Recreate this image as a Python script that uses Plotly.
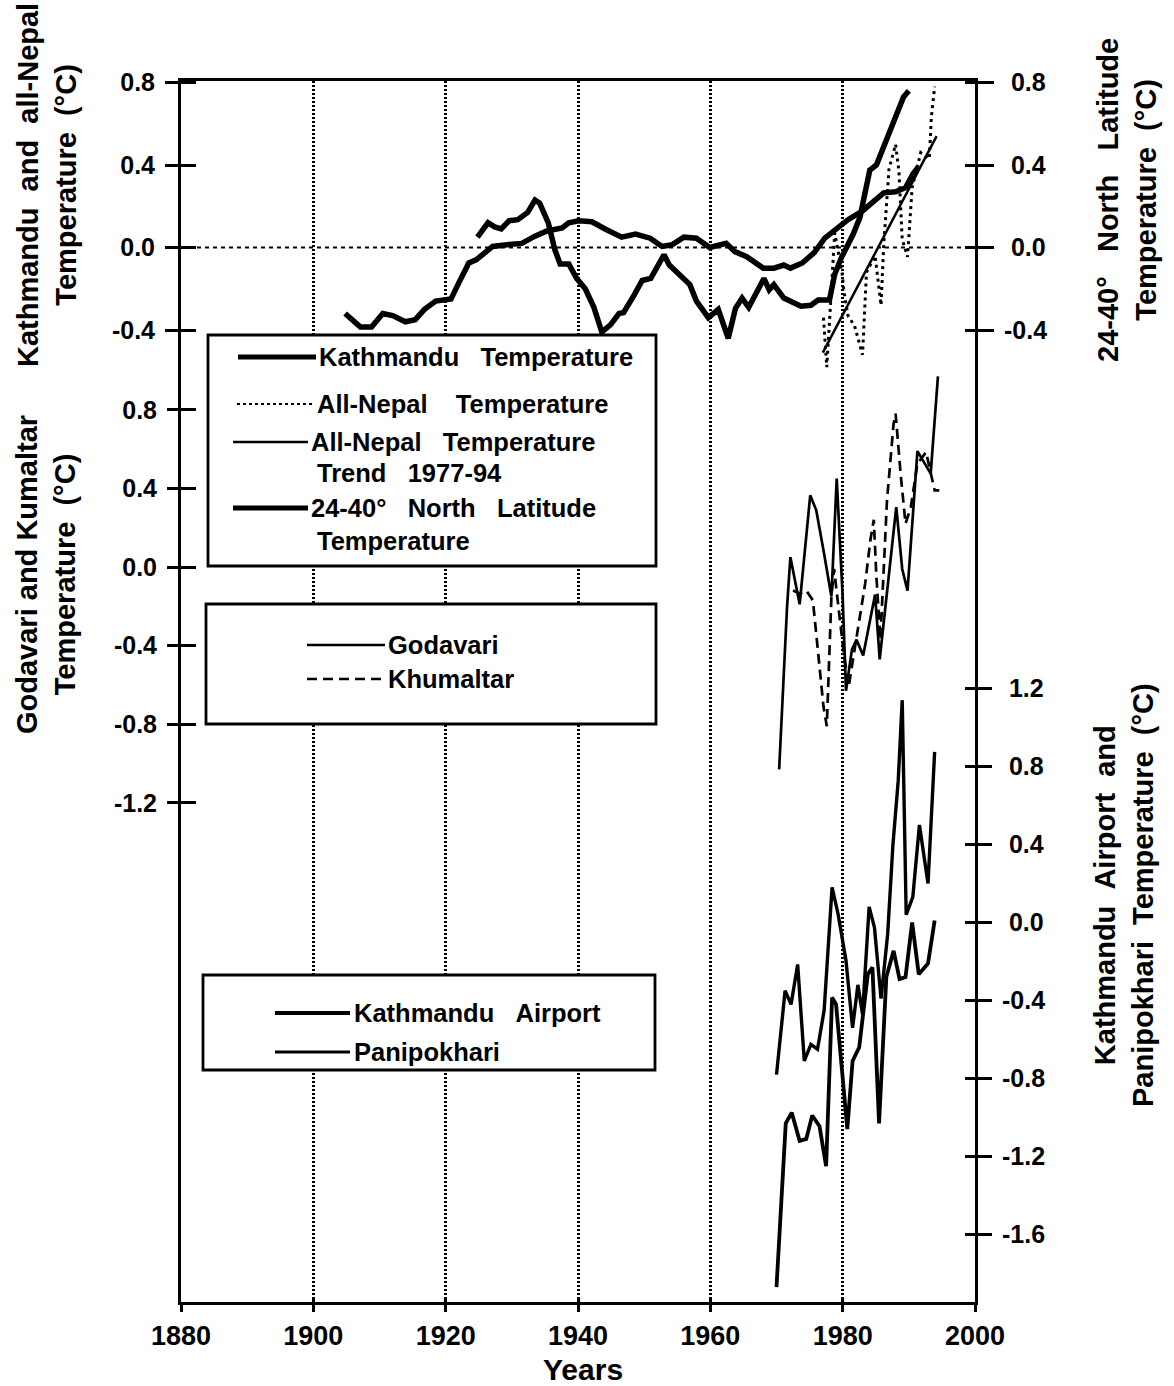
import plotly.graph_objects as go

# ---------------- data ----------------
kath_year = [1924.8, 1926.4, 1927.4, 1928.4, 1929.6, 1930.9, 1932.4, 1933.5, 1934.2, 1935.5,
             1936.5, 1937.3, 1938.6, 1939.8, 1941.1, 1942.4, 1943.6, 1944.9, 1946.2, 1946.9,
             1948.5, 1949.7, 1951.0, 1952.3, 1953.0, 1953.8, 1955.3, 1956.9, 1957.9, 1959.7,
             1961.2, 1962.7, 1963.8, 1964.8, 1965.8, 1968.1, 1968.9, 1969.6, 1971.1, 1973.7,
             1975.2, 1976.3, 1978.0, 1978.8, 1979.8, 1981.6, 1982.6, 1983.4, 1984.1, 1985.1,
             1986.4, 1988.0, 1989.2, 1990.0]
kath_temp = [0.05, 0.12, 0.10, 0.09, 0.13, 0.135, 0.17, 0.23, 0.215, 0.12,
             -0.01, -0.08, -0.08, -0.15, -0.20, -0.29, -0.41, -0.375, -0.32, -0.315,
             -0.23, -0.16, -0.15, -0.07, -0.035, -0.085, -0.13, -0.18, -0.26, -0.34,
             -0.30, -0.44, -0.295, -0.245, -0.29, -0.15, -0.205, -0.18, -0.245, -0.285,
             -0.28, -0.255, -0.255, -0.13, -0.05, 0.065, 0.145, 0.26, 0.375, 0.40,
             0.505, 0.625, 0.73, 0.76]

lat_year = [1904.8, 1906.1, 1907.1, 1908.8, 1910.5, 1912.0, 1913.9, 1915.4, 1916.8, 1918.5,
            1920.8, 1922.0, 1923.5, 1924.6, 1925.8, 1927.1, 1929.6, 1931.5, 1933.5, 1935.3,
            1937.6, 1938.6, 1940.1, 1942.1, 1944.1, 1946.6, 1948.7, 1950.9, 1952.7, 1954.2,
            1956.0, 1957.9, 1959.9, 1962.4, 1963.7, 1965.5, 1968.0, 1969.6, 1971.1, 1972.1,
            1973.9, 1975.7, 1977.3, 1979.3, 1980.8, 1982.9, 1984.9, 1986.2, 1988.0, 1989.5,
            1990.6, 1991.4]
lat_temp = [-0.32, -0.36, -0.385, -0.385, -0.32, -0.33, -0.36, -0.35, -0.30, -0.26,
            -0.25, -0.17, -0.075, -0.06, -0.03, 0.005, 0.015, 0.02, 0.055, 0.08,
            0.095, 0.12, 0.13, 0.125, 0.09, 0.05, 0.065, 0.045, 0.005, 0.013,
            0.05, 0.045, 0.0, 0.02, -0.02, -0.045, -0.10, -0.10, -0.085, -0.10,
            -0.075, -0.025, 0.045, 0.10, 0.135, 0.175, 0.225, 0.265, 0.27, 0.29,
            0.355, 0.39]

nepal_year = [1977.1, 1977.6, 1978.8, 1979.9, 1980.2, 1980.8, 1981.8, 1983.0, 1983.6, 1984.9,
              1985.8, 1986.2, 1987.0, 1988.0, 1988.5, 1989.0, 1989.8, 1990.5, 1991.8, 1993.1,
              1993.4, 1993.9]
nepal_temp = [-0.34, -0.58, 0.07, -0.12, -0.215, -0.33, -0.38, -0.52, -0.12, -0.04,
              -0.28, 0.01, 0.38, 0.50, 0.37, 0.04, -0.045, 0.29, 0.46, 0.43,
              0.63, 0.78]

trend_year = [1977.0, 1994.2]
trend_temp = [-0.51, 0.54]

god_year = [1970.4, 1971.6, 1972.1, 1973.5, 1975.1, 1976.0, 1977.1, 1978.3, 1979.1, 1980.0,
            1980.5, 1981.4, 1982.1, 1983.1, 1984.9, 1985.6, 1988.1, 1989.0, 1989.8, 1991.3,
            1993.3, 1994.4]
god_temp = [-1.03, -0.20, 0.05, -0.19, 0.365, 0.29, 0.085, -0.15, 0.45, -0.15,
            -0.63, -0.42, -0.37, -0.45, -0.14, -0.47, 0.305, -0.01, -0.12, 0.59,
            0.475, 0.97]

khu_year = [1972.5, 1973.5, 1974.5, 1975.5, 1977.1, 1977.6, 1978.3, 1978.7, 1980.1, 1980.9,
            1983.4, 1984.2, 1984.7, 1985.1, 1985.7, 1986.7, 1987.7, 1988.0, 1988.8, 1989.5,
            1990.3, 1991.3, 1992.6, 1993.9, 1994.6]
khu_temp = [-0.12, -0.135, -0.12, -0.17, -0.71, -0.81, -0.15, -0.01, -0.42, -0.61,
            -0.085, 0.14, 0.24, -0.05, -0.37, 0.34, 0.73, 0.78, 0.46, 0.22,
            0.305, 0.525, 0.585, 0.39, 0.39]

air_year = [1970.0, 1971.4, 1972.3, 1973.5, 1974.5, 1975.4, 1976.5, 1977.5, 1978.4, 1979.0,
            1980.7, 1981.5, 1982.5, 1983.8, 1984.5, 1985.5, 1986.6, 1987.7, 1988.6, 1989.5,
            1990.5, 1991.5, 1992.9, 1993.9]
air_temp = [-1.87, -1.03, -0.975, -1.12, -1.11, -0.99, -1.045, -1.25, -0.385, -0.42,
            -1.06, -0.71, -0.64, -0.265, -0.23, -1.03, -0.28, -0.145, -0.29, -0.28,
            0.0, -0.265, -0.21, 0.01]

pani_year = [1970.0, 1971.3, 1972.2, 1973.2, 1974.2, 1975.2, 1976.2, 1977.2, 1978.4, 1979.3,
             1980.5, 1981.5, 1982.3, 1983.0, 1984.0, 1984.8, 1985.8, 1986.8, 1987.6, 1988.4,
             1989.0, 1989.6, 1990.6, 1991.6, 1992.9, 1993.9]
pani_temp = [-0.78, -0.35, -0.42, -0.215, -0.71, -0.625, -0.65, -0.45, 0.18, 0.045,
             -0.195, -0.54, -0.32, -0.47, 0.08, -0.025, -0.39, -0.06, 0.40, 0.73,
             1.14, 0.04, 0.13, 0.50, 0.20, 0.875]

x_ticks = [1880, 1900, 1920, 1940, 1960, 1980, 2000]
top_ticks = [0.8, 0.4, 0.0, -0.4]
mid_ticks = [0.8, 0.4, 0.0, -0.4, -0.8, -1.2]
bot_ticks = [1.2, 0.8, 0.4, 0.0, -0.4, -0.8, -1.2, -1.6]


def lab(v, pad=False):
    s = f"{abs(v):.1f}"
    if v < 0:
        return "-" + s
    return ("\u00a0" + s) if pad else s


# ---------------- geometry ----------------
WIDTH, HEIGHT = 1174, 1386
L, R, T, B = 181, 975, 81, 1302
PW, PH = R - L, B - T


def px(x):
    return (x - L) / PW


def py(y):
    return (B - y) / PH


R_top = [-5.1127, 0.8073]
R_mid = [-3.7405, 2.4733]
R_bot = [-1.9462, 4.3154]

FONT = "Liberation Sans, Arial, Helvetica, sans-serif"
tickfont = dict(family=FONT, size=25, color="black", weight="bold")
AX_W = 3

fig = go.Figure()

# top panel
fig.add_trace(go.Scatter(x=kath_year, y=kath_temp, mode="lines", name="Kathmandu Temperature",
                         line=dict(color="black", width=5.5), xaxis="x", yaxis="y"))
fig.add_trace(go.Scatter(x=nepal_year, y=nepal_temp, mode="lines", name="All-Nepal Temperature",
                         line=dict(color="black", width=3, dash="3px,4px"), xaxis="x", yaxis="y"))
fig.add_trace(go.Scatter(x=trend_year, y=trend_temp, mode="lines", name="All-Nepal Trend",
                         line=dict(color="black", width=2.5), xaxis="x", yaxis="y"))
fig.add_trace(go.Scatter(x=lat_year, y=lat_temp, mode="lines", name="24-40N",
                         line=dict(color="black", width=5.5), xaxis="x", yaxis="y5"))
# middle panel
fig.add_trace(go.Scatter(x=god_year, y=god_temp, mode="lines", name="Godavari",
                         line=dict(color="black", width=2.7), xaxis="x", yaxis="y3"))
fig.add_trace(go.Scatter(x=khu_year, y=khu_temp, mode="lines", name="Khumaltar",
                         line=dict(color="black", width=2.7, dash="10px,6px"), xaxis="x", yaxis="y3"))
# bottom panel
fig.add_trace(go.Scatter(x=air_year, y=air_temp, mode="lines", name="Kathmandu Airport",
                         line=dict(color="black", width=3.8), xaxis="x", yaxis="y7"))
fig.add_trace(go.Scatter(x=pani_year, y=pani_temp, mode="lines", name="Panipokhari",
                         line=dict(color="black", width=3.4), xaxis="x", yaxis="y7"))
# empty traces so that helper axes (inner tick halves) exist
for ya in ["y2", "y4", "y6", "y8"]:
    fig.add_trace(go.Scatter(x=[], y=[], xaxis="x", yaxis=ya, showlegend=False))
fig.add_trace(go.Scatter(x=[], y=[], xaxis="x2", yaxis="y", showlegend=False))


def yax(rng, ticks_vals, side, tick_dir, ticklen, labels, line=False, overlay=True, pad=False):
    d = dict(range=rng, domain=[0, 1], anchor="x", side=side,
             tickmode="array", tickvals=ticks_vals,
             ticktext=[lab(v, pad) for v in ticks_vals],
             ticks=tick_dir, ticklen=ticklen, tickwidth=AX_W, tickcolor="black",
             showticklabels=labels, tickfont=tickfont, ticklabelstandoff=5,
             showline=line, linecolor="black", linewidth=AX_W,
             showgrid=False, zeroline=False, fixedrange=True)
    if overlay:
        d["overlaying"] = "y"
    return d


layout = dict(
    width=WIDTH, height=HEIGHT, autosize=False,
    margin=dict(l=L, r=WIDTH - R, t=T, b=HEIGHT - B, pad=0),
    paper_bgcolor="white", plot_bgcolor="white", showlegend=False,
    xaxis=dict(range=[1880, 2000], domain=[0, 1], anchor="y", tickmode="array", tickvals=x_ticks,
               ticktext=[str(v) for v in x_ticks],
               ticks="outside", ticklen=7, tickwidth=AX_W, tickcolor="black",
               tickfont=dict(family=FONT, size=27, color="black", weight="bold"),
               ticklabelstandoff=1,
               showline=True, linecolor="black", linewidth=AX_W, mirror=True,
               showgrid=True, gridcolor="black", gridwidth=2.5, griddash="2px,2px",
               zeroline=False, fixedrange=True),
    xaxis2=dict(range=[1880, 2000], overlaying="x", anchor="y", side="bottom",
                tickmode="array", tickvals=x_ticks, ticks="inside", ticklen=5, tickwidth=AX_W,
                tickcolor="black", showticklabels=False, showline=False, showgrid=False,
                zeroline=False, fixedrange=True),
    yaxis=yax(R_top, top_ticks, "left", "outside", 13, True, line=True, overlay=False),
    yaxis2=yax(R_top, top_ticks, "left", "inside", 15, False),
    yaxis3=yax(R_mid, mid_ticks, "left", "outside", 13, True),
    yaxis4=yax(R_mid, mid_ticks, "left", "inside", 15, False),
    yaxis5=yax(R_top, top_ticks, "right", "outside", 16, True, line=True, pad=True),
    yaxis6=yax(R_top, top_ticks, "right", "inside", 10, False),
    yaxis7=yax(R_bot, bot_ticks, "right", "outside", 16, True, pad=True),
    yaxis8=yax(R_bot, bot_ticks, "right", "inside", 10, False),
)
fig.update_layout(**layout)

# horizontal dashed zero line of the top panel
shapes = [dict(type="line", xref="paper", x0=0, x1=1, yref="y", y0=0, y1=0,
               line=dict(color="black", width=2.2, dash="4px,4px"), layer="below")]

# legend boxes
boxes = [(208, 335, 656, 566), (206, 604, 656, 724), (203, 975, 655, 1070)]
for x0, y0, x1, y1 in boxes:
    shapes.append(dict(type="rect", xref="paper", yref="paper", x0=px(x0), x1=px(x1),
                       y0=py(y1), y1=py(y0), fillcolor="white",
                       line=dict(color="black", width=2.8), layer="above"))

# legend sample lines: (x0, x1, y, width, dash)
samples = [(238, 316, 357, 5, "solid"), (237, 313, 404, 2.2, "3px,3px"),
           (233, 308, 442, 2.5, "solid"), (233, 308, 508, 5, "solid"),
           (307, 385, 645, 2.7, "solid"), (307, 385, 679, 2.7, "10px,6px"),
           (275, 350, 1013, 3.8, "solid"), (275, 350, 1052, 3.2, "solid")]
for x0, x1, y, w, dsh in samples:
    shapes.append(dict(type="line", xref="paper", yref="paper", x0=px(x0), x1=px(x1),
                       y0=py(y), y1=py(y), line=dict(color="black", width=w, dash=dsh),
                       layer="above"))
fig.update_layout(shapes=shapes)

NB = "\u00a0"
legend_texts = [
    (317, 357, "Kathmandu" + NB * 3 + "Temperature"),
    (315, 404, "All-Nepal" + NB * 4 + "Temperature"),
    (309, 442, "All-Nepal" + NB * 3 + "Temperature"),
    (315, 473, "Trend" + NB * 3 + "1977-94"),
    (309, 508, "24-40°" + NB * 3 + "North" + NB * 3 + "Latitude"),
    (315, 541, "Temperature"),
    (386, 645, "Godavari"),
    (386, 679, "Khumaltar"),
    (352, 1013, "Kathmandu" + NB * 3 + "Airport"),
    (352, 1052, "Panipokhari"),
]
ann = []
for x, y, t in legend_texts:
    ann.append(dict(xref="paper", yref="paper", x=px(x), y=py(y), text=t, showarrow=False,
                    xanchor="left", yanchor="middle",
                    font=dict(family=FONT, size=25.5, color="black", weight="bold")))

titles = [
    (47, 185, "Kathmandu" + NB * 2 + "and" + NB * 2 + "all-Nepal<br>Temperature" + NB * 2 + "(°C)"),
    (46, 575, "Godavari" + NB + "and" + NB + "Kumaltar<br>Temperature" + NB * 2 + "(°C)"),
    (1127, 200, "24-40°" + NB * 3 + "North" + NB * 3 + "Latitude<br>Temperature" + NB * 2 + "(°C)"),
    (1124, 895, "Kathmandu" + NB * 2 + "Airport" + NB * 2 + "and<br>Panipokhari" + NB * 2
     + "Temperature" + NB * 2 + "(°C)"),
]
for x, y, t in titles:
    ann.append(dict(xref="paper", yref="paper", x=px(x), y=py(y), text=t, showarrow=False,
                    textangle=-90, xanchor="center", yanchor="middle",
                    font=dict(family=FONT, size=29, color="black", weight="bold")))

ann.append(dict(xref="paper", yref="paper", x=px(583), y=py(1369), text="Years", showarrow=False,
                xanchor="center", yanchor="middle",
                font=dict(family=FONT, size=30, color="black", weight="bold")))
fig.update_layout(annotations=ann)

fig.write_html("out.html")
